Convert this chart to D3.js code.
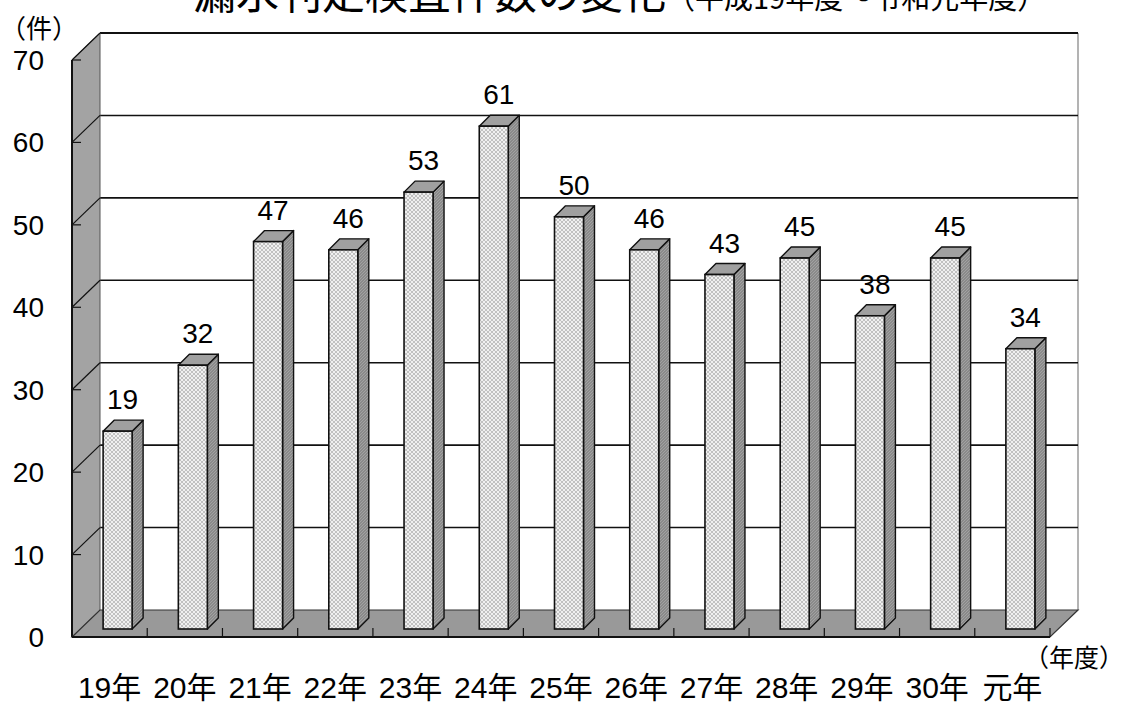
<!DOCTYPE html>
<html>
<head>
<meta charset="utf-8">
<script src="https://cdn.jsdelivr.net/npm/d3@7"></script>
<style>
  body { margin: 0; background: #fff; }
  svg text { font-family: "Liberation Sans", "Noto Sans CJK JP", sans-serif; fill: #000; }
</style>
</head>
<body>
<div id="chart"></div>
<script>
// data
var years = ["19年", "20年", "21年", "22年", "23年", "24年", "25年", "26年", "27年", "28年", "29年", "30年", "元年"];
// bar heights as drawn (the first bar is drawn taller than its label says)
var counts = [24, 32, 47, 46, 53, 61, 50, 46, 43, 45, 38, 45, 34];
var countLabels = ["19", "32", "47", "46", "53", "61", "50", "46", "43", "45", "38", "45", "34"];
var yTicks = [0, 10, 20, 30, 40, 50, 60, 70];

var width = 1128,
  height = 704;

// 3d offsets
var wallDx = 28, wallDy = -27;
var barOff = 8, barDepth = 11, barW = 29;

var svg = d3
  .select("#chart")
  .append("svg")
  .attr("width", width)
  .attr("height", height);

var defs = svg.append("defs");
var pat = defs.append("pattern").attr("id", "lattice")
  .attr("width", 4).attr("height", 4).attr("patternUnits", "userSpaceOnUse");
pat.append("rect").attr("width", 4).attr("height", 4).attr("fill", "#f0f0f0");
pat.append("path").attr("d", "M0,0L4,4M4,0L0,4").attr("stroke", "#bcbcbc").attr("stroke-width", 0.9);

var pat2 = defs.append("pattern").attr("id", "sidehatch")
  .attr("width", 3).attr("height", 3).attr("patternUnits", "userSpaceOnUse");
pat2.append("rect").attr("width", 3).attr("height", 3).attr("fill", "#8a8a8a");
pat2.append("path").attr("d", "M0,3L3,0").attr("stroke", "#a8a8a8").attr("stroke-width", 0.8);

var x = d3.scaleBand().domain(years).range([72, 1050]).padding(0);
var y = d3.scaleLinear().domain([0, 70]).range([637, 60]);

var x0 = x.range()[0], x1 = x.range()[1];
var yb = y(0), yt = y(70);

// back wall
svg.append("rect")
  .attr("x", x0 + wallDx).attr("y", yt + wallDy)
  .attr("width", x1 - x0).attr("height", yb - yt)
  .attr("fill", "#fff");
svg.append("line")
  .attr("x1", x1 + wallDx).attr("x2", x1 + wallDx)
  .attr("y1", yt + wallDy).attr("y2", yb + wallDy)
  .attr("stroke", "#9a9a9a").attr("stroke-width", 1.5);

// gridlines on back wall
svg.append("g").selectAll("line")
  .data(yTicks.filter(function (d) { return d > 0; }))
  .join("line")
  .attr("x1", x0 + wallDx).attr("x2", x1 + wallDx)
  .attr("y1", function (d) { return y(d) + wallDy; })
  .attr("y2", function (d) { return y(d) + wallDy; })
  .attr("stroke", "#111").attr("stroke-width", function (d) { return d === 70 ? 2.2 : 1.6; });

// left wall
svg.append("polygon")
  .attr("points", [[x0, yb], [x0, yt], [x0 + wallDx, yt + wallDy], [x0 + wallDx, yb + wallDy]].join(" "))
  .attr("fill", "#a3a3a3").attr("stroke", "#555").attr("stroke-width", 1);
svg.append("g").selectAll("line")
  .data(yTicks.filter(function (d) { return d > 0; }))
  .join("line")
  .attr("x1", x0).attr("x2", x0 + wallDx)
  .attr("y1", function (d) { return y(d); })
  .attr("y2", function (d) { return y(d) + wallDy; })
  .attr("stroke", "#111").attr("stroke-width", 1.2);
svg.append("g").selectAll("line")
  .data(yTicks)
  .join("line")
  .attr("x1", x0).attr("x2", x0 + 9)
  .attr("y1", function (d) { return y(d); })
  .attr("y2", function (d) { return y(d); })
  .attr("stroke", "#111").attr("stroke-width", 1.2);
svg.append("line")
  .attr("x1", x0).attr("x2", x0).attr("y1", yt).attr("y2", yb)
  .attr("stroke", "#111").attr("stroke-width", 2);

// floor
svg.append("polygon")
  .attr("points", [[x0, yb], [x0 + wallDx, yb + wallDy], [x1 + wallDx, yb + wallDy], [x1, yb]].join(" "))
  .attr("fill", "#999").attr("stroke", "#333").attr("stroke-width", 1.2);
svg.append("line")
  .attr("x1", x0).attr("x2", x1).attr("y1", yb).attr("y2", yb)
  .attr("stroke", "#111").attr("stroke-width", 2.2);

// category ticks
svg.append("g").selectAll("line")
  .data(years.slice(1).concat(["end"]))
  .join("line")
  .attr("x1", function (d) { return d === "end" ? x1 : x(d); })
  .attr("x2", function (d) { return d === "end" ? x1 : x(d); })
  .attr("y1", yb).attr("y2", yb - 9)
  .attr("stroke", "#111").attr("stroke-width", 1.2);

// bars
var bars = svg.append("g").selectAll("g")
  .data(years)
  .join("g");

function barLeft(i) {
  return x(years[i]) + barOff + (x.bandwidth() - barW) / 2;
}
function barTop(i) {
  return y(counts[i]) - barOff;
}

bars.append("polygon")
  .attr("points", function (d, i) {
    var l = barLeft(i) + barW, t = barTop(i), b = yb - barOff;
    return [[l, t], [l + barDepth, t - barDepth], [l + barDepth, b - barDepth], [l, b]].join(" ");
  })
  .attr("fill", "url(#sidehatch)").attr("stroke", "#111").attr("stroke-width", 1.4)
  .attr("stroke-linejoin", "round");
bars.append("polygon")
  .attr("points", function (d, i) {
    var l = barLeft(i), t = barTop(i);
    return [[l, t], [l + barDepth, t - barDepth], [l + barW + barDepth, t - barDepth], [l + barW, t]].join(" ");
  })
  .attr("fill", "#a0a0a0").attr("stroke", "#111").attr("stroke-width", 1.4)
  .attr("stroke-linejoin", "round");
bars.append("rect")
  .attr("x", function (d, i) { return barLeft(i); })
  .attr("y", function (d, i) { return barTop(i); })
  .attr("width", barW)
  .attr("height", function (d, i) { return yb - barOff - barTop(i); })
  .attr("fill", "url(#lattice)").attr("stroke", "#111").attr("stroke-width", 1.6);

// value labels
bars.append("text")
  .attr("x", function (d, i) { return barLeft(i) + barW / 2 + 5; })
  .attr("y", function (d, i) { return barTop(i) - 22; })
  .attr("text-anchor", "middle")
  .attr("font-size", 28)
  .text(function (d, i) { return countLabels[i]; });

// y axis labels
svg.append("g").selectAll("text")
  .data(yTicks)
  .join("text")
  .attr("x", 44)
  .attr("y", function (d) { return y(d) + 10; })
  .attr("text-anchor", "end")
  .attr("font-size", 28)
  .text(function (d) { return d; });

// x axis labels
svg.append("g").selectAll("text")
  .data(years)
  .join("text")
  .attr("x", function (d) { return x(d) + x.bandwidth() / 2; })
  .attr("y", 698)
  .attr("text-anchor", "middle")
  .attr("font-size", 30)
  .text(function (d) { return d; });

// unit labels
svg.append("text").attr("x", 0).attr("y", 38).attr("font-size", 26).text("（件）");
svg.append("text").attr("x", 1024).attr("y", 667).attr("font-size", 25).text("（年度）");

// title, cut off at the top
var title = svg.append("text").attr("x", 193).attr("y", 9)
  .style("font-family", "'Noto Sans CJK JP', sans-serif");
title.append("tspan").attr("font-size", 43).text("漏水判定検査件数の変化");
title.append("tspan").attr("font-size", 29).text("（平成19年度～令和元年度）");
</script>
</body>
</html>
